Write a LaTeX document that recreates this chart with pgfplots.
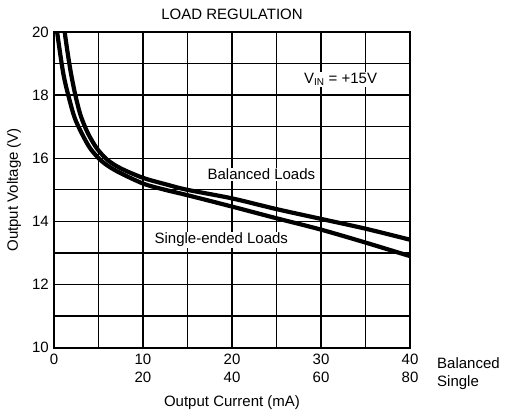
\documentclass[border=0pt]{standalone}
\usepackage{fontspec}
\setmainfont{Liberation Sans}
\usepackage{pgfplots}
\pgfplotsset{compat=1.18}

\begin{document}
\fontsize{15}{17}\selectfont
\begin{tikzpicture}
\useasboundingbox (-54pt,-69.3pt) rectangle (454pt,347.7pt);
\begin{axis}[
    at={(0,0)}, anchor=south west,
    width=356pt, height=315.7pt, scale only axis,
    xmin=0, xmax=40, ymin=10, ymax=20,
    xtick={0,10,20,30,40},
    xticklabels={0, 10\\20, 20\\40, 30\\60, 40\\80},
    xticklabel style={align=center, font=\fontsize{15}{18}\selectfont, yshift=-1pt},
    minor xtick={5,15,25,35},
    ytick={10,12,14,16,18,20},
    minor ytick={11,13,15,17,19},
    yticklabel style={font=\fontsize{15}{17}\selectfont},
    /pgf/number format/assume math mode=true,
    major tick length=0pt, minor tick length=0pt,
    grid=both,
    major grid style={black, line width=1.3pt},
    minor grid style={black, line width=1.3pt},
    axis line style={black, line width=2.2pt},
    title={LOAD REGULATION},
    title style={yshift=1pt},
    xlabel={Output Current (mA)},
    ylabel={Output Voltage (V)},
    xlabel style={yshift=-3pt},
    ylabel style={yshift=1pt},
    clip=true,
]
% Balanced loads
\addplot[black, line width=4.2pt, smooth, tension=0.5] coordinates {
    (1.2,20) (1.5,19.4) (1.9,18.7) (2.4,18) (3.0,17.35) (3.8,16.8)
    (4.8,16.32) (6,15.95) (7.5,15.68) (10,15.38) (12.5,15.18) (15,15.0)
    (20,14.73) (25,14.39) (30,14.08) (35,13.77) (40,13.42)
};
% Single-ended loads
\addplot[black, line width=4.2pt, smooth, tension=0.5] coordinates {
    (0.35,20) (0.7,19.3) (1.1,18.6) (1.6,18) (2.3,17.3) (3.1,16.8)
    (4.1,16.3) (5.4,15.9) (7,15.6) (10,15.2) (12.5,15.0) (15,14.83)
    (20,14.47) (25,14.1) (30,13.74) (35,13.33) (40,12.9)
};
\node[fill=white, inner sep=1pt] at (axis cs:32.2,18.5) {V\textsubscript{\fontsize{10}{11}\selectfont IN} = +15V};
\node[fill=white, inner sep=1pt] at (axis cs:23.3,15.5) {Balanced Loads};
\node[fill=white, inner sep=1pt] at (axis cs:18.8,13.42) {Single-ended Loads};
\end{axis}
\node[anchor=north west, align=left, font=\fontsize{15}{18}\selectfont] at (378pt,-5pt) {Balanced\\Single};
\end{tikzpicture}
\end{document}
